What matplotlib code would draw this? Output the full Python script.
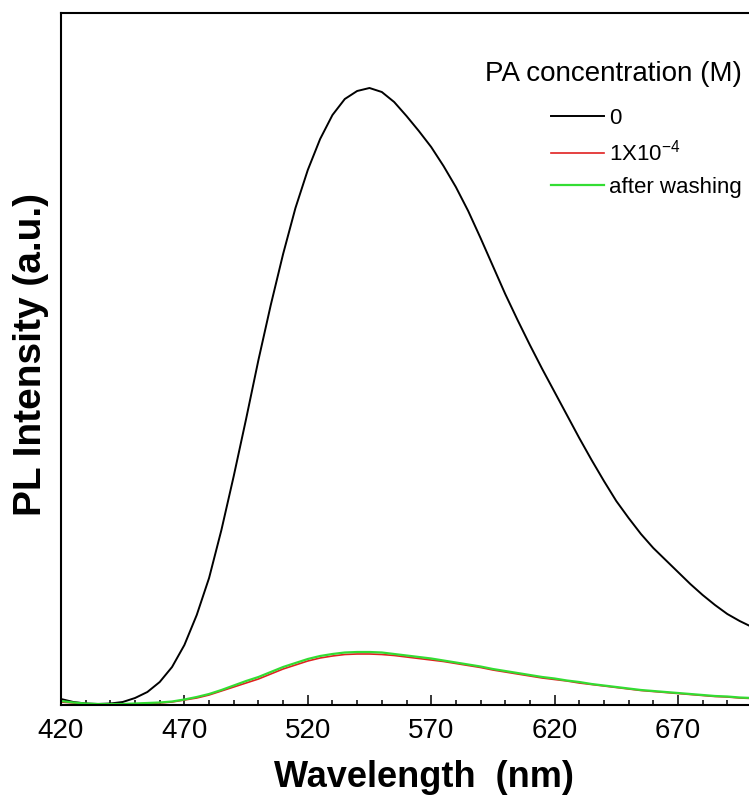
import matplotlib
matplotlib.use("Agg")
import matplotlib.pyplot as plt

plt.rcParams['font.family'] = ['Liberation Sans', 'DejaVu Sans']
plt.rcParams['mathtext.default'] = 'regular'

# wavelength (nm), 5 nm steps
wavelength = list(range(420, 705, 5))

# PL intensity (arbitrary units)
pl_0 = [6, 3, 1.5, 1, 1.5, 3, 7, 13, 23, 38,
        60, 90, 127, 175, 229, 286, 345, 400, 451, 497,
        535, 566, 590, 606, 614, 617, 613, 603, 589, 574,
        558, 539, 518, 494, 467, 439, 411, 385, 360, 336,
        313, 290, 267, 245, 224, 204, 187, 171, 157, 145,
        133, 121, 110, 100, 91, 84, 78]
pl_pa = [3, 2, 1, 1, 1, 1, 1, 1.5, 2, 3,
         5, 7, 10, 14, 18, 22, 26, 31, 36, 40,
         44, 47, 49, 50.5, 51, 51, 50.5, 49.5, 48, 46.5,
         45, 43.5, 41.5, 39.5, 37.5, 35, 33, 31, 29, 27,
         25.5, 24, 22, 20.5, 19, 17.5, 16, 14.5, 13.5, 12.5,
         11.5, 10.5, 9.5, 8.5, 8, 7, 6.5]
pl_wash = [4, 2.5, 1.5, 1, 1, 1, 1.5, 2, 2.5, 3.5,
           5.5, 8, 11, 15, 19.5, 24, 28, 33, 38, 42,
           46, 49, 51, 52.5, 53, 53, 52.5, 51, 49.5, 48,
           46.5, 44.5, 42.5, 40.5, 38.5, 36, 34, 32, 30, 28,
           26.5, 24.5, 23, 21, 19.5, 18, 16.5, 15, 14, 13,
           12, 11, 10, 9, 8.5, 7.5, 7]

labels = ['0', '1X10$^{-4}$', 'after washing']

fig = plt.figure(figsize=(7.49, 7.99), dpi=100)
ax = fig.add_axes([61 / 749, 94 / 799, 691 / 749, 692 / 799])

ax.plot(wavelength, pl_0, color='black', lw=1.4, label=labels[0])
ax.plot(wavelength, pl_pa, color='#e02020', lw=1.2, label=labels[1])
ax.plot(wavelength, pl_wash, color='#33dd33', lw=1.6, label=labels[2])

ax.set_xlim(420, 700)
ax.set_ylim(0, 692)

ax.set_xticks([420, 470, 520, 570, 620, 670])
ax.set_xticks(range(420, 700, 10), minor=True)
ax.set_yticks([])
ax.tick_params(axis='x', which='both', direction='in', top=False, width=1.1, labelsize=20, pad=9)
ax.tick_params(axis='x', which='major', length=7)
ax.tick_params(axis='x', which='minor', length=3.6)

for s in ['left', 'top', 'bottom']:
    ax.spines[s].set_linewidth(1.5)
ax.spines['right'].set_visible(False)

ax.set_xlabel('Wavelength  (nm)', fontsize=26, fontweight='bold')
ax.xaxis.set_label_coords((424 - 61) / 691, -0.08)
ax.set_ylabel('PL Intensity (a.u.)', fontsize=28, fontweight='bold')
ax.yaxis.set_label_coords(-0.018, 0.506)

leg = ax.legend(title='PA concentration (M)', loc='upper right',
                bbox_to_anchor=(742 / 749, 738 / 799), bbox_transform=fig.transFigure,
                frameon=False, fontsize=16, title_fontsize=20,
                handlelength=2.35, handletextpad=0.25, labelspacing=0.5,
                borderpad=0, borderaxespad=0, alignment='right')
leg._legend_box.sep = 15

fig.savefig('out.png', dpi=100)
